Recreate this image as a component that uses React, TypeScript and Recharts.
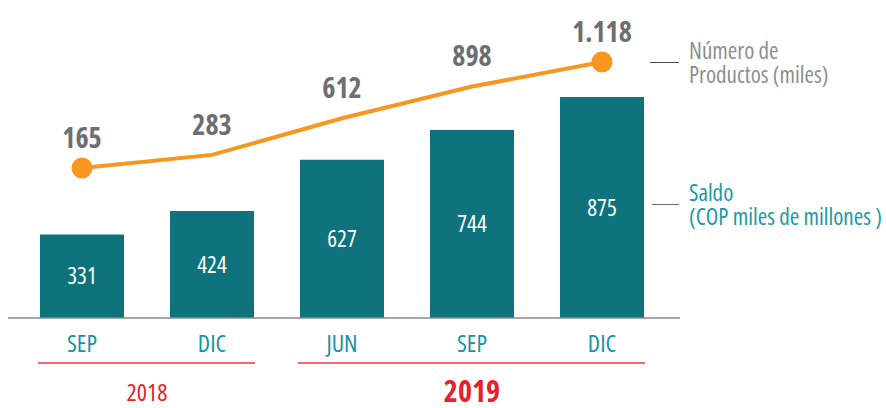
import { ComposedChart, Bar, Line, XAxis, YAxis, LabelList, Legend } from 'recharts'

const months = ['SEP', 'DIC', 'JUN', 'SEP', 'DIC']
const years = ['2018', '2018', '2019', '2019', '2019']
const saldo = [331, 424, 627, 744, 875]
const productos = [165, 283, 612, 898, 1118]

const FONT = "'Open Sans', Roboto, sans-serif"
const STRETCH = 'condensed'
const TEAL = '#0E737C'
const ORANGE = '#F7971F'

const data = months.map((m, i) => ({
  key: `${m}-${years[i]}`,
  month: m,
  year: years[i],
  saldo: saldo[i],
  productos: productos[i],
}))

const fmtMiles = (v: number) =>
  v >= 1000 ? `${Math.floor(v / 1000)}.${String(v % 1000).padStart(3, '0')}` : String(v)

// month label + year group (red rule and year) drawn under the last month of each year
const MonthTick = (props: any) => {
  const { x, y, payload } = props
  const i = payload.index
  const band = payload.offset * 2
  const endOfGroup = i === years.length - 1 || years[i + 1] !== years[i]
  let group = null
  if (endOfGroup) {
    const n = years.filter((yr) => yr === years[i]).length
    const firstX = x - (n - 1) * band
    const latest = years[i] === years[years.length - 1]
    group = (
      <g>
        <line x1={firstX - 44} x2={x + 43} y1={y + 45} y2={y + 45} stroke="#F06A70" strokeWidth={2} />
        <text
          x={(firstX + x) / 2}
          y={latest ? y + 84 : y + 83}
          textAnchor="middle"
          fill="#E8202A"
          fontFamily={FONT}
          fontSize={latest ? 30 : 24}
          fontWeight={latest ? 700 : 400}
          style={{ fontStretch: STRETCH }}
        >
          {years[i]}
        </text>
      </g>
    )
  }
  return (
    <g>
      <text
        x={x}
        y={y + 34}
        textAnchor="middle"
        fill="#1793A2"
        fontFamily={FONT}
        fontSize={24}
        style={{ fontStretch: STRETCH }}
      >
        {months[i]}
      </text>
      {group}
    </g>
  )
}

const LegendBox = () => (
  <div style={{ fontFamily: FONT, fontStretch: STRETCH, fontSize: 23, lineHeight: '24px', whiteSpace: 'nowrap' }}>
    <div style={{ display: 'flex', alignItems: 'center', color: '#8C8E91' }}>
      <span style={{ width: 29, borderTop: '1.5px solid #4A4A4A', marginRight: 10 }} />
      <div>
        <div>Número de</div>
        <div>Productos (miles)</div>
      </div>
    </div>
    <div style={{ display: 'flex', alignItems: 'center', color: '#1A98A6', marginTop: 94 }}>
      <span style={{ width: 27, borderTop: '1.5px solid #6A6A6A', marginLeft: 2, marginRight: 10 }} />
      <div>
        <div>Saldo</div>
        <div>(COP miles de millones )</div>
      </div>
    </div>
  </div>
)

export default function App() {
  return (
    <div style={{ position: 'absolute', left: 0, top: 0, width: 886, height: 408, background: '#fff' }}>
      <ComposedChart width={886} height={408} data={data} margin={{ top: 20, right: 206, left: 8, bottom: 0 }}>
        <XAxis
          dataKey="key"
          height={90}
          padding={{ left: 9, right: 13 }}
          axisLine={{ stroke: '#8A8A8A', strokeWidth: 1.5 }}
          tickLine={false}
          tickSize={0}
          tickMargin={0}
          interval={0}
          tick={<MonthTick />}
        />
        <YAxis yAxisId="saldo" hide domain={[0, 1180]} />
        <YAxis yAxisId="productos" hide orientation="right" domain={[-1184, 1496]} />
        <Legend
          layout="horizontal"
          verticalAlign="middle"
          align="center"
          width={236}
          wrapperStyle={{ left: 650, top: 38 }}
          content={<LegendBox />}
        />
        <Bar yAxisId="saldo" dataKey="saldo" fill={TEAL} barSize={84} isAnimationActive={false}>
          <LabelList
            dataKey="saldo"
            position="center"
            fill="#ffffff"
            fontFamily={FONT}
            fontSize={23}
            style={{ fontStretch: STRETCH }}
          />
        </Bar>
        <Line
          yAxisId="productos"
          dataKey="productos"
          type="linear"
          stroke={ORANGE}
          strokeWidth={4}
          isAnimationActive={false}
          dot={(p: any) =>
            p.index === 0 || p.index === productos.length - 1 ? (
              <circle key={p.index} cx={p.cx} cy={p.cy} r={10.5} fill={ORANGE} />
            ) : (
              <g key={p.index} />
            )
          }
          activeDot={false}
        >
          <LabelList
            dataKey="productos"
            position="top"
            offset={20}
            fill="#6D6E71"
            fontFamily={FONT}
            fontSize={28}
            fontWeight={700}
            style={{ fontStretch: STRETCH }}
            formatter={(v: any) => fmtMiles(Number(v))}
          />
        </Line>
      </ComposedChart>
    </div>
  )
}
